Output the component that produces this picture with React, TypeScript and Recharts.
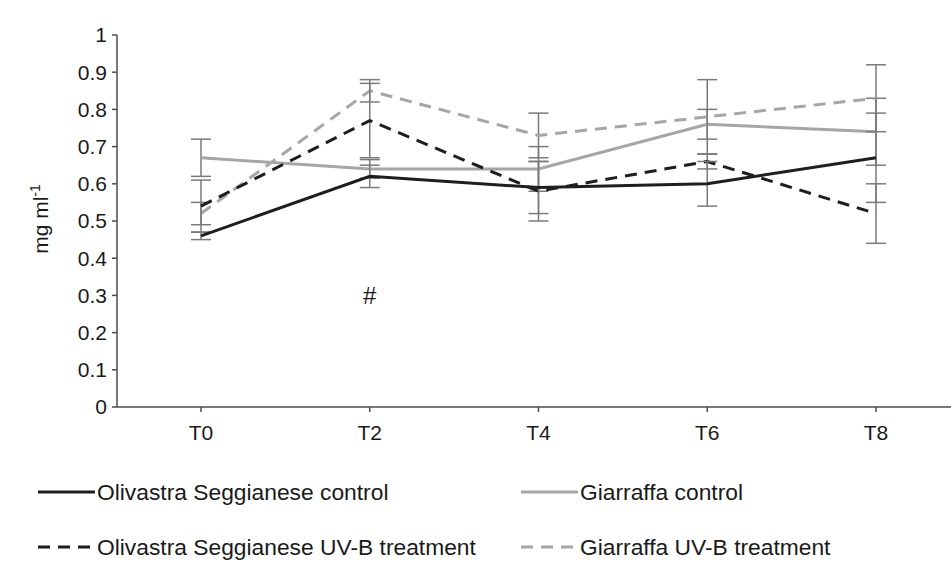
import React from 'react';
import { LineChart, Line, XAxis, YAxis, ErrorBar, ReferenceDot } from 'recharts';

const categories = ['T0', 'T2', 'T4', 'T6', 'T8'];
const osControl = [0.46, 0.62, 0.59, 0.6, 0.67];
const osControlErr = [0.01, 0.03, 0.07, 0.06, 0.12];
const gControl = [0.67, 0.64, 0.64, 0.76, 0.74];
const gControlErr = [0.05, 0.025, 0.06, 0.04, 0.09];
const osUV = [0.54, 0.77, 0.58, 0.66, 0.52];
const osUVErr = [0.07, 0.1, 0.08, 0.02, 0.08];
const gUV = [0.52, 0.85, 0.73, 0.78, 0.83];
const gUVErr = [0.03, 0.03, 0.06, 0.1, 0.09];
const yTicks = [0, 0.1, 0.2, 0.3, 0.4, 0.5, 0.6, 0.7, 0.8, 0.9, 1];
const annotationCategory = 'T2';
const annotationValue = 0.3;
const annotationText = '#';

const seriesNames = {
  osControl: 'Olivastra Seggianese control',
  gControl: 'Giarraffa control',
  osUV: 'Olivastra Seggianese UV-B treatment',
  gUV: 'Giarraffa UV-B treatment',
};

const data = categories.map((c, i) => ({
  cat: c,
  osControl: osControl[i],
  osControlErr: osControlErr[i],
  gControl: gControl[i],
  gControlErr: gControlErr[i],
  osUV: osUV[i],
  osUVErr: osUVErr[i],
  gUV: gUV[i],
  gUVErr: gUVErr[i],
}));

const FONT = '"Liberation Sans", Arial, sans-serif';
const BLACK = '#1e1e1e';
const GRAY = '#a6a6a6';
const AXIS = '#4d4d4d';
const ERR = '#7a7a7a';
const DASH = '12 8';

const YLabel = () => (
  <text
    x={48}
    y={219}
    transform="rotate(-90, 48, 219)"
    textAnchor="middle"
    fontFamily={FONT}
    fontSize={21}
    fill="#1a1a1a"
  >
    mg ml<tspan fontSize={14} dy={-8}>-1</tspan>
  </text>
);

const legendItems = [
  { key: 'osControl', color: BLACK, dash: undefined, x: 38, y: 492 },
  { key: 'gControl', color: GRAY, dash: undefined, x: 521, y: 492 },
  { key: 'osUV', color: BLACK, dash: DASH, x: 38, y: 547 },
  { key: 'gUV', color: GRAY, dash: DASH, x: 521, y: 547 },
];

export default function App() {
  return (
    <div
      style={{
        position: 'absolute',
        left: 0,
        top: 0,
        width: 951,
        height: 579,
        overflow: 'hidden',
        background: '#fff',
      }}
    >
      <LineChart
        width={960}
        height={579}
        data={data}
        margin={{ top: 35, right: 0, left: 0, bottom: 142 }}
      >
        <XAxis
          dataKey="cat"
          height={30}
          padding={{ left: 84, right: 84 }}
          axisLine={{ stroke: AXIS, strokeWidth: 1.5 }}
          tickLine={{ stroke: AXIS, strokeWidth: 1.5 }}
          tickSize={5}
          tickMargin={13}
          tick={{ fontFamily: FONT, fontSize: 21, fill: '#1a1a1a' }}
        />
        <YAxis
          width={117}
          domain={[0, 1]}
          ticks={yTicks}
          interval={0}
          tickFormatter={(v: number) => String(+v.toFixed(1))}
          axisLine={{ stroke: AXIS, strokeWidth: 1.5 }}
          tickLine={{ stroke: AXIS, strokeWidth: 1.5 }}
          tickSize={5}
          tickMargin={5}
          tick={{ fontFamily: FONT, fontSize: 21, fill: '#1a1a1a' }}
          label={<YLabel />}
        />
        <Line
          dataKey="gControl"
          name={seriesNames.gControl}
          stroke={GRAY}
          strokeWidth={3}
          dot={false}
          isAnimationActive={false}
        >
          <ErrorBar dataKey="gControlErr" width={10} stroke={ERR} strokeWidth={1.5} direction="y" />
        </Line>
        <Line
          dataKey="gUV"
          name={seriesNames.gUV}
          stroke={GRAY}
          strokeWidth={3}
          strokeDasharray={DASH}
          dot={false}
          isAnimationActive={false}
        >
          <ErrorBar dataKey="gUVErr" width={10} stroke={ERR} strokeWidth={1.5} direction="y" />
        </Line>
        <Line
          dataKey="osUV"
          name={seriesNames.osUV}
          stroke={BLACK}
          strokeWidth={3}
          strokeDasharray={DASH}
          dot={false}
          isAnimationActive={false}
        >
          <ErrorBar dataKey="osUVErr" width={10} stroke={ERR} strokeWidth={1.5} direction="y" />
        </Line>
        <Line
          dataKey="osControl"
          name={seriesNames.osControl}
          stroke={BLACK}
          strokeWidth={3}
          dot={false}
          isAnimationActive={false}
        >
          <ErrorBar dataKey="osControlErr" width={10} stroke={ERR} strokeWidth={1.5} direction="y" />
        </Line>
        <ReferenceDot
          x={annotationCategory}
          y={annotationValue}
          r={0}
          fill="none"
          stroke="none"
          label={{
            value: annotationText,
            position: 'center',
            fontFamily: FONT,
            fontSize: 24,
            fill: '#1a1a1a',
          }}
        />
      </LineChart>
      <svg
        width={951}
        height={579}
        style={{ position: 'absolute', left: 0, top: 0, pointerEvents: 'none' }}
      >
        {legendItems.map((it) => (
          <g key={it.key}>
            <line
              x1={it.x}
              x2={it.x + 57}
              y1={it.y}
              y2={it.y}
              stroke={it.color}
              strokeWidth={3}
              strokeDasharray={it.dash}
            />
            <text
              x={it.x + 59}
              y={it.y}
              dominantBaseline="central"
              fontFamily={FONT}
              fontSize={22.8}
              fill="#1a1a1a"
            >
              {seriesNames[it.key as keyof typeof seriesNames]}
            </text>
          </g>
        ))}
      </svg>
    </div>
  );
}
